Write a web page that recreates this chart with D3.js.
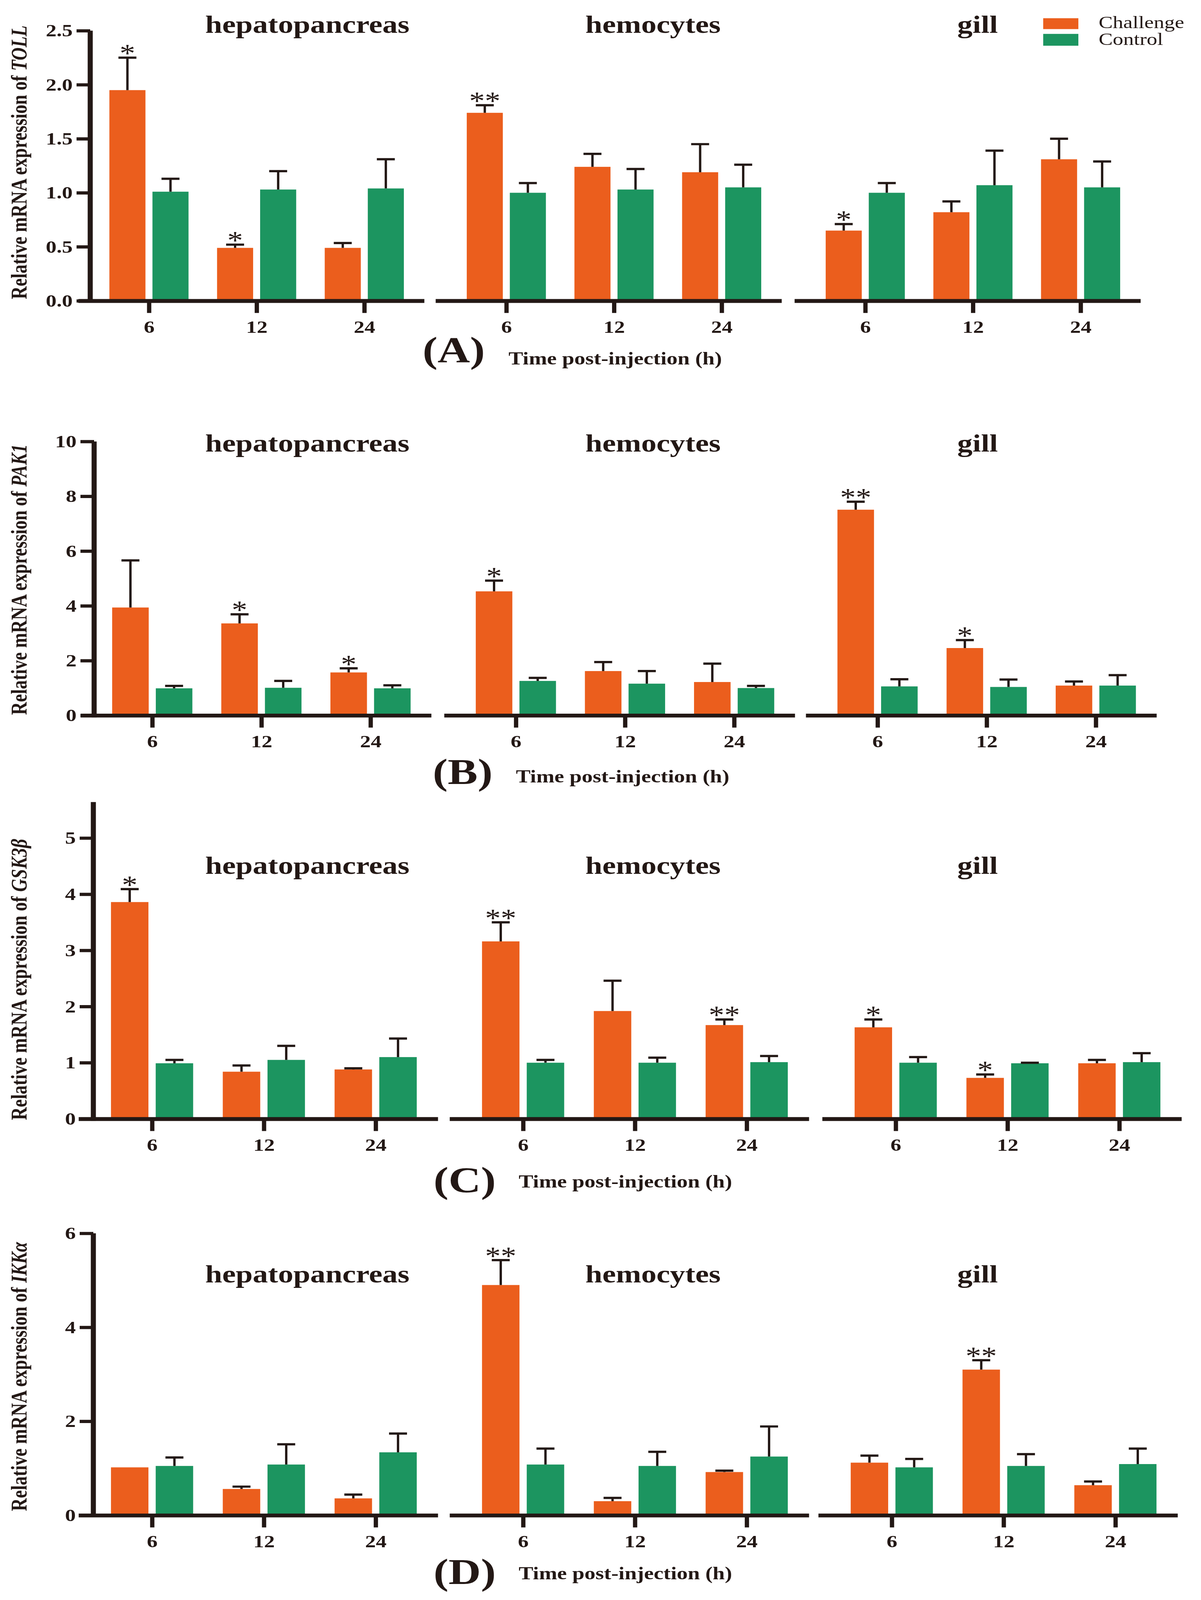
<!DOCTYPE html>
<html>
<head>
<meta charset="utf-8">
<script src="https://cdn.jsdelivr.net/npm/d3@7"></script>
<style>
  html, body { margin: 0; background: #fff; overflow: hidden; }
  svg { display: block; }
  text { font-family: "Liberation Serif", "Times New Roman", serif; fill: #231815; }
</style>
</head>
<body>
<div id="chart"></div>
<script>
var times = ["6", "12", "24"];
var tissues = ["hepatopancreas", "hemocytes", "gill"];
var genes = ["TOLL", "PAK1", "GSK3β", "IKKα"];
var panelTags = ["(A)", "(B)", "(C)", "(D)"];
var groups = ["Challenge", "Control"];

// rows = tissue (hepatopancreas, hemocytes, gill), columns = time (6, 12, 24 h)
var tollChallenge   = [[1.95, 0.49, 0.49], [1.74, 1.24, 1.19], [0.65, 0.82, 1.31]];
var tollChallengeSE = [[0.30, 0.03, 0.045], [0.07, 0.12, 0.26], [0.06, 0.10, 0.19]];
var tollControl     = [[1.01, 1.03, 1.04], [1.00, 1.03, 1.05], [1.00, 1.07, 1.05]];
var tollControlSE   = [[0.12, 0.17, 0.27], [0.09, 0.19, 0.21], [0.09, 0.32, 0.24]];
var tollStars       = [["*", "*", ""], ["**", "", ""], ["*", "", ""]];

var pak1Challenge   = [[3.94, 3.36, 1.57], [4.53, 1.62, 1.22], [7.51, 2.46, 1.09]];
var pak1ChallengeSE = [[1.72, 0.33, 0.15], [0.39, 0.33, 0.67], [0.29, 0.29, 0.15]];
var pak1Control     = [[0.99, 1.01, 0.99], [1.26, 1.16, 1.00], [1.06, 1.04, 1.09]];
var pak1ControlSE   = [[0.09, 0.25, 0.11], [0.11, 0.46, 0.08], [0.26, 0.27, 0.38]];
var pak1Stars       = [["", "*", "*"], ["*", "", ""], ["**", "*", ""]];

var gskChallenge    = [[3.86, 0.84, 0.88], [3.16, 1.92, 1.67], [1.63, 0.73, 0.99]];
var gskChallengeSE  = [[0.23, 0.11, 0.02], [0.34, 0.54, 0.10], [0.14, 0.06, 0.06]];
var gskControl      = [[0.99, 1.05, 1.10], [1.00, 1.00, 1.01], [1.00, 0.99, 1.01]];
var gskControlSE    = [[0.06, 0.25, 0.33], [0.05, 0.09, 0.11], [0.10, 0.01, 0.16]];
var gskStars        = [["*", "", ""], ["**", "", "**"], ["*", "*", ""]];

var ikkChallenge    = [[1.02, 0.56, 0.36], [4.90, 0.30, 0.92], [1.12, 3.10, 0.64]];
var ikkChallengeSE  = [[0.00, 0.05, 0.08], [0.53, 0.07, 0.03], [0.15, 0.20, 0.08]];
var ikkControl      = [[1.05, 1.08, 1.34], [1.08, 1.05, 1.25], [1.02, 1.05, 1.09]];
var ikkControlSE    = [[0.18, 0.43, 0.40], [0.34, 0.30, 0.64], [0.18, 0.25, 0.33]];
var ikkStars        = [["", "", ""], ["**", "", ""], ["", "**", ""]];

var tollTicks = [0, 0.5, 1.0, 1.5, 2.0, 2.5];
var pak1Ticks = [0, 2, 4, 6, 8, 10];
var gskTicks  = [0, 1, 2, 3, 4, 5];
var ikkTicks  = [0, 2, 4, 6];

var colors = {Challenge: "#EB5E1D", Control: "#1C9560"};
var ink = "#231815";

// layout of the four panels, in figure pixels (3075 x 5005)
var panels = [
  {gene: genes[0], tag: panelTags[0], ch: tollChallenge, chSE: tollChallengeSE, ct: tollControl, ctSE: tollControlSE, stars: tollStars,
   ticks: tollTicks, fmt: ".1f", yMax: 2.5, base: 941, top: 96, yAxisX: 231, starts: [200, 1115, 2034], len: 886,
   titleY: 103, labelY: 508, tagX: 1082, tagY: 1133, timeX: 1302, timeY: 1140},
  {gene: genes[1], tag: panelTags[1], ch: pak1Challenge, chSE: pak1ChallengeSE, ct: pak1Control, ctSE: pak1ControlSE, stars: pak1Stars,
   ticks: pak1Ticks, fmt: "d", yMax: 10, base: 2238, top: 1381, yAxisX: 241, starts: [206, 1137, 2063], len: 898,
   titleY: 1412, labelY: 1813, tagX: 1108, tagY: 2453, timeX: 1321, timeY: 2448},
  {gene: genes[2], tag: panelTags[2], ch: gskChallenge, chSE: gskChallengeSE, ct: gskControl, ctSE: gskControlSE, stars: gskStars,
   ticks: gskTicks, fmt: "d", yMax: 5.64, base: 3500, top: 2509, yAxisX: 239, starts: [201, 1151, 2105], len: 920,
   titleY: 2733, labelY: 3064, tagX: 1110, tagY: 3729, timeX: 1328, timeY: 3715},
  {gene: genes[3], tag: panelTags[3], ch: ikkChallenge, chSE: ikkChallengeSE, ct: ikkControl, ctSE: ikkControlSE, stars: ikkStars,
   ticks: ikkTicks, fmt: "d", yMax: 6, base: 4740, top: 3858, yAxisX: 239, starts: [201, 1151, 2095], len: 920,
   titleY: 4012, labelY: 4306, tagX: 1110, tagY: 4955, timeX: 1328, timeY: 4940}
];

var titleX = [787, 1672, 2503];

// the figure is 3075 x 5005; stretch it onto whatever the window gives
var W = window.innerWidth || 3075,
    H = window.innerHeight || 5005;

var svg = d3.select("#chart")
  .append("svg")
    .attr("width", W)
    .attr("height", H)
    .attr("viewBox", "0 0 3075 5005")
    .attr("preserveAspectRatio", "none");

svg.append("rect").attr("width", 3075).attr("height", 5005).attr("fill", "#fff");

panels.forEach(function(p) {
  var g = svg.append("g");

  var y = d3.scaleLinear()
    .domain([0, p.yMax])
    .range([p.base, p.top]);

  tissues.forEach(function(tissue, ti) {
    var x = d3.scalePoint()
      .domain(times)
      .range([p.starts[ti], p.starts[ti] + p.len])
      .padding(0.607)
      .align(0.542);
    var step = x.step();
    var bw = step * 0.335;
    var off = step * 0.2;

    var rows = [];
    times.forEach(function(t, k) {
      rows.push({t: t, group: "Challenge", v: p.ch[ti][k], se: p.chSE[ti][k], star: p.stars[ti][k], cx: x(t) - off});
      rows.push({t: t, group: "Control", v: p.ct[ti][k], se: p.ctSE[ti][k], star: "", cx: x(t) + off});
    });

    // bars
    g.append("g").selectAll("rect")
      .data(rows)
      .enter()
      .append("rect")
        .attr("x", function(d) { return d.cx - bw / 2; })
        .attr("y", function(d) { return y(d.v); })
        .attr("width", bw)
        .attr("height", function(d) { return p.base - y(d.v); })
        .attr("fill", function(d) { return colors[d.group]; });

    // error bars (upper half only)
    var eb = g.append("g").selectAll("g")
      .data(rows.filter(function(d) { return d.se > 0; }))
      .enter()
      .append("g");
    eb.append("line")
      .attr("x1", function(d) { return d.cx; })
      .attr("x2", function(d) { return d.cx; })
      .attr("y1", function(d) { return y(d.v); })
      .attr("y2", function(d) { return y(d.v + d.se); })
      .attr("stroke", ink)
      .attr("stroke-width", 6);
    eb.append("line")
      .attr("x1", function(d) { return d.cx - 23; })
      .attr("x2", function(d) { return d.cx + 23; })
      .attr("y1", function(d) { return y(d.v + d.se); })
      .attr("y2", function(d) { return y(d.v + d.se); })
      .attr("stroke", ink)
      .attr("stroke-width", 7);

    // significance stars
    g.append("g").selectAll("text")
      .data(rows.filter(function(d) { return d.star; }))
      .enter()
      .append("text")
        .attr("x", function(d) { return d.cx; })
        .attr("y", function(d) { return y(d.v + d.se) + 13; })
        .attr("text-anchor", "middle")
        .attr("font-size", "80px")
        .text(function(d) { return d.star; });

    // x axis for this tissue
    var xa = g.append("g")
      .attr("transform", "translate(0," + p.base + ")")
      .call(d3.axisBottom(x).tickSize(38).tickSizeOuter(0));
    xa.attr("font-family", null).attr("font-size", null);
    xa.select(".domain").attr("stroke", ink).attr("stroke-width", 12);
    xa.selectAll(".tick line").attr("stroke", ink).attr("stroke-width", 11);
    xa.selectAll(".tick text")
      .attr("y", 100)
      .attr("dy", null)
      .attr("fill", ink)
      .attr("font-size", "55px")
      .attr("font-weight", "bold");

    // tissue title
    g.append("text")
      .attr("x", titleX[ti])
      .attr("y", p.titleY)
      .attr("text-anchor", "middle")
      .attr("font-size", "78px")
      .attr("font-weight", "bold")
      .text(tissue);
  });

  // y axis
  var ya = g.append("g")
    .attr("transform", "translate(" + p.yAxisX + ",0)")
    .call(d3.axisLeft(y).tickValues(p.ticks).tickFormat(d3.format(p.fmt)).tickSize(35).tickSizeOuter(0).tickPadding(10));
  ya.attr("font-family", null).attr("font-size", null);
  ya.select(".domain")
    .attr("d", "M0," + (p.base + 6) + "V" + y(p.yMax))
    .attr("stroke", ink).attr("stroke-width", 13);
  ya.selectAll(".tick line").attr("stroke", ink).attr("stroke-width", 10);
  ya.selectAll(".tick text")
    .attr("fill", ink)
    .attr("font-size", "55px")
    .attr("font-weight", "bold");

  // y axis label
  var yl = g.append("text")
    .attr("transform", "translate(68," + p.labelY + ") rotate(-90)")
    .attr("text-anchor", "middle")
    .attr("font-size", "56px")
    .attr("font-weight", "bold");
  yl.append("tspan").text("Relative mRNA expression of ");
  yl.append("tspan").attr("font-style", "italic").text(p.gene);

  // panel tag and x label
  g.append("text")
    .attr("x", p.tagX)
    .attr("y", p.tagY)
    .attr("font-size", "115px")
    .attr("font-weight", "bold")
    .text(p.tag);
  g.append("text")
    .attr("x", p.timeX)
    .attr("y", p.timeY)
    .attr("font-size", "56px")
    .attr("font-weight", "bold")
    .text("Time post-injection (h)");
});

// legend
var legend = svg.append("g");
var legendRows = [{name: groups[0], y: 57, h: 34, ty: 88}, {name: groups[1], y: 106, h: 37, ty: 141}];
legend.selectAll("rect")
  .data(legendRows)
  .enter()
  .append("rect")
    .attr("x", 2671)
    .attr("y", function(d) { return d.y; })
    .attr("width", 90)
    .attr("height", function(d) { return d.h; })
    .attr("fill", function(d) { return colors[d.name]; });
legend.selectAll("text")
  .data(legendRows)
  .enter()
  .append("text")
    .attr("x", 2813)
    .attr("y", function(d) { return d.ty; })
    .attr("font-size", "54px")
    .text(function(d) { return d.name; });
</script>
</body>
</html>
